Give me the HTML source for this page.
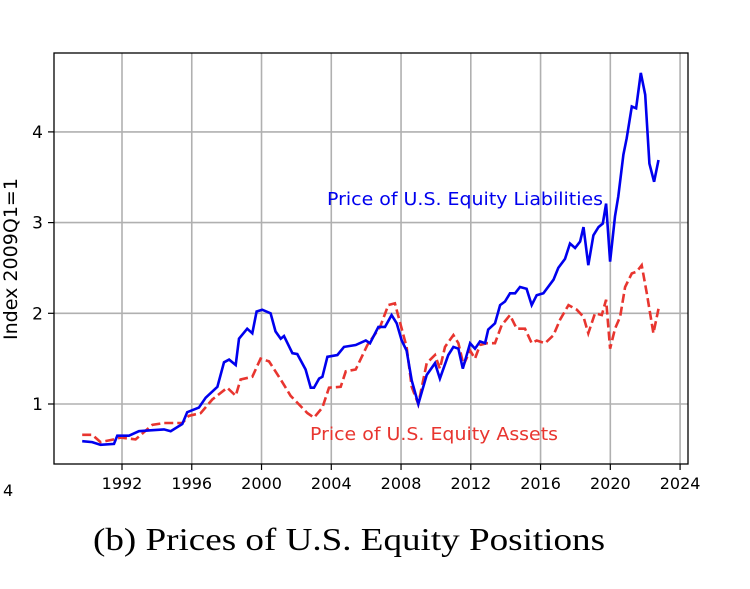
<!DOCTYPE html>
<html><head><meta charset="utf-8"><style>
body{margin:0;background:#fff;width:750px;height:584px;overflow:hidden}
svg text{font-family:"DejaVu Sans","Liberation Sans",sans-serif}
</style></head><body>
<svg width="750" height="584" id="chart">
<text x="3" y="496" font-size="16">4</text>
<text transform="translate(17,259) rotate(-90)" text-anchor="middle" font-size="19" textLength="162" lengthAdjust="spacingAndGlyphs">Index 2009Q1=1</text>
<text x="93" y="550" font-size="32" textLength="512" lengthAdjust="spacingAndGlyphs" style="font-family:'Liberation Serif',serif">(b) Prices of U.S. Equity Positions</text>
<g id="grid"></g><g id="series"></g><g id="axes"></g>
<text x="327" y="205" font-size="18" fill="#0000ee" textLength="276" lengthAdjust="spacingAndGlyphs">Price of U.S. Equity Liabilities</text>
<text x="310" y="440" font-size="18" fill="#e8352f" textLength="248" lengthAdjust="spacingAndGlyphs">Price of U.S. Equity Assets</text>
</svg>
<script>
const xTicks=[1992,1996,2000,2004,2008,2012,2016,2020,2024];
const yTicks=[1,2,3,4];
const liabDates=[1989.72,1990.29,1990.77,1991.54,1991.73,1992.4,1992.97,1993.64,1994.41,1994.79,1995.46,1995.74,1996.41,1996.8,1997.47,1997.85,1998.14,1998.52,1998.71,1999.18,1999.47,1999.72,2000.04,2000.52,2000.8,2001.1,2001.29,2001.77,2002.05,2002.53,2002.82,2003.01,2003.3,2003.49,2003.78,2004.35,2004.73,2005.4,2005.98,2006.22,2006.7,2007.08,2007.46,2007.75,2008.04,2008.32,2008.61,2008.99,2009.47,2009.95,2010.23,2010.71,2011.0,2011.29,2011.54,2011.96,2012.24,2012.53,2012.82,2013.0,2013.39,2013.68,2013.96,2014.25,2014.54,2014.82,2015.2,2015.49,2015.78,2016.16,2016.74,2017.02,2017.4,2017.69,2017.98,2018.27,2018.46,2018.74,2019.03,2019.32,2019.57,2019.76,2019.99,2020.27,2020.46,2020.75,2020.94,2021.23,2021.48,2021.75,2022.0,2022.24,2022.51,2022.76];
const liabValues=[0.59,0.58,0.55,0.56,0.65,0.65,0.70,0.71,0.72,0.70,0.78,0.91,0.96,1.07,1.19,1.46,1.49,1.43,1.72,1.83,1.78,2.02,2.04,2.00,1.80,1.72,1.75,1.56,1.55,1.38,1.18,1.18,1.28,1.30,1.52,1.54,1.63,1.65,1.70,1.67,1.85,1.85,1.98,1.89,1.70,1.59,1.26,1.0,1.32,1.45,1.28,1.54,1.63,1.61,1.39,1.67,1.61,1.69,1.67,1.82,1.89,2.09,2.13,2.22,2.22,2.29,2.27,2.09,2.20,2.22,2.37,2.50,2.60,2.77,2.72,2.79,2.95,2.53,2.86,2.95,2.99,3.21,2.57,3.07,3.29,3.75,3.93,4.28,4.26,4.65,4.41,3.65,3.45,3.69];
const assetDates=[1989.72,1990.29,1990.77,1991.54,1991.92,1992.78,1993.74,1994.41,1995.46,1995.84,1996.51,1997.18,1998.04,1998.52,1998.8,1999.47,1999.95,2000.43,2001.1,2001.67,2002.63,2003.01,2003.49,2003.87,2004.54,2004.83,2005.4,2006.07,2006.8,2007.27,2007.65,2007.94,2008.32,2008.61,2008.99,2009.47,2009.95,2010.23,2010.52,2011.0,2011.29,2011.58,2011.96,2012.24,2012.53,2012.91,2013.39,2013.77,2014.25,2014.63,2015.11,2015.49,2015.78,2016.26,2016.74,2017.12,2017.6,2018.08,2018.46,2018.74,2019.12,2019.51,2019.76,2019.99,2020.27,2020.56,2020.85,2021.23,2021.52,2021.8,2022.09,2022.47,2022.76];
const assetValues=[0.66,0.66,0.58,0.61,0.63,0.61,0.77,0.79,0.79,0.87,0.90,1.05,1.18,1.09,1.27,1.30,1.50,1.47,1.27,1.09,0.90,0.85,0.96,1.18,1.19,1.36,1.38,1.65,1.85,2.09,2.11,1.90,1.63,1.19,1.0,1.45,1.54,1.39,1.63,1.76,1.67,1.43,1.59,1.50,1.65,1.67,1.67,1.87,1.98,1.83,1.83,1.67,1.70,1.67,1.76,1.93,2.09,2.04,1.96,1.78,2.0,1.98,2.15,1.61,1.83,1.96,2.29,2.44,2.46,2.53,2.22,1.78,2.05];
const L=54,R=688,T=53,B=464;
const xs=y=>122+(y-1992)*17.44;
const ys=v=>404-(v-1)*90.7;
const NS='http://www.w3.org/2000/svg';
function mk(tag,parent,attrs){const e=document.createElementNS(NS,tag);for(const k in attrs)e.setAttribute(k,attrs[k]);parent.appendChild(e);return e;}
const grid=document.getElementById('grid'),axes=document.getElementById('axes'),ser=document.getElementById('series');
xTicks.forEach(t=>{
 const g=mk('line',grid,{x1:xs(t),x2:xs(t),y1:T,y2:B,stroke:'#b0b0b0','stroke-width':1.6});
 
 
 const tk=mk('line',axes,{x1:xs(t),x2:xs(t),y1:B,y2:B+6,stroke:'#000','stroke-width':1.2});
 
 
 const tx=mk('text',axes,{x:xs(t),y:B+25,'text-anchor':'middle','font-size':16});
 tx.textContent=t;
 
 
});
yTicks.forEach(t=>{
 const g=mk('line',grid,{x1:L,x2:R,y1:ys(t),y2:ys(t),stroke:'#b0b0b0','stroke-width':1.6});
 
 
 const tk=mk('line',axes,{x1:L-6,x2:L,y1:ys(t),y2:ys(t),stroke:'#000','stroke-width':1.2});
 
 
 const tx=mk('text',axes,{x:L-11,y:ys(t)+6,'text-anchor':'end','font-size':17});
 tx.textContent=t;
 
 
});
const fr=mk('rect',axes,{x:L,y:T,width:R-L,height:B-T,fill:'none',stroke:'#000','stroke-width':1.3});


function path(d,v){return d.map((x,i)=>(i?'L':'M')+xs(x).toFixed(1)+' '+ys(v[i]).toFixed(1)).join(' ');}
const pa=mk('path',ser,{d:path(assetDates,assetValues),fill:'none',stroke:'#e8352f','stroke-width':2.6,'stroke-dasharray':'9 4'});


const pl=mk('path',ser,{d:path(liabDates,liabValues),fill:'none',stroke:'#0000ee','stroke-width':2.6});


</script>
</body></html>
